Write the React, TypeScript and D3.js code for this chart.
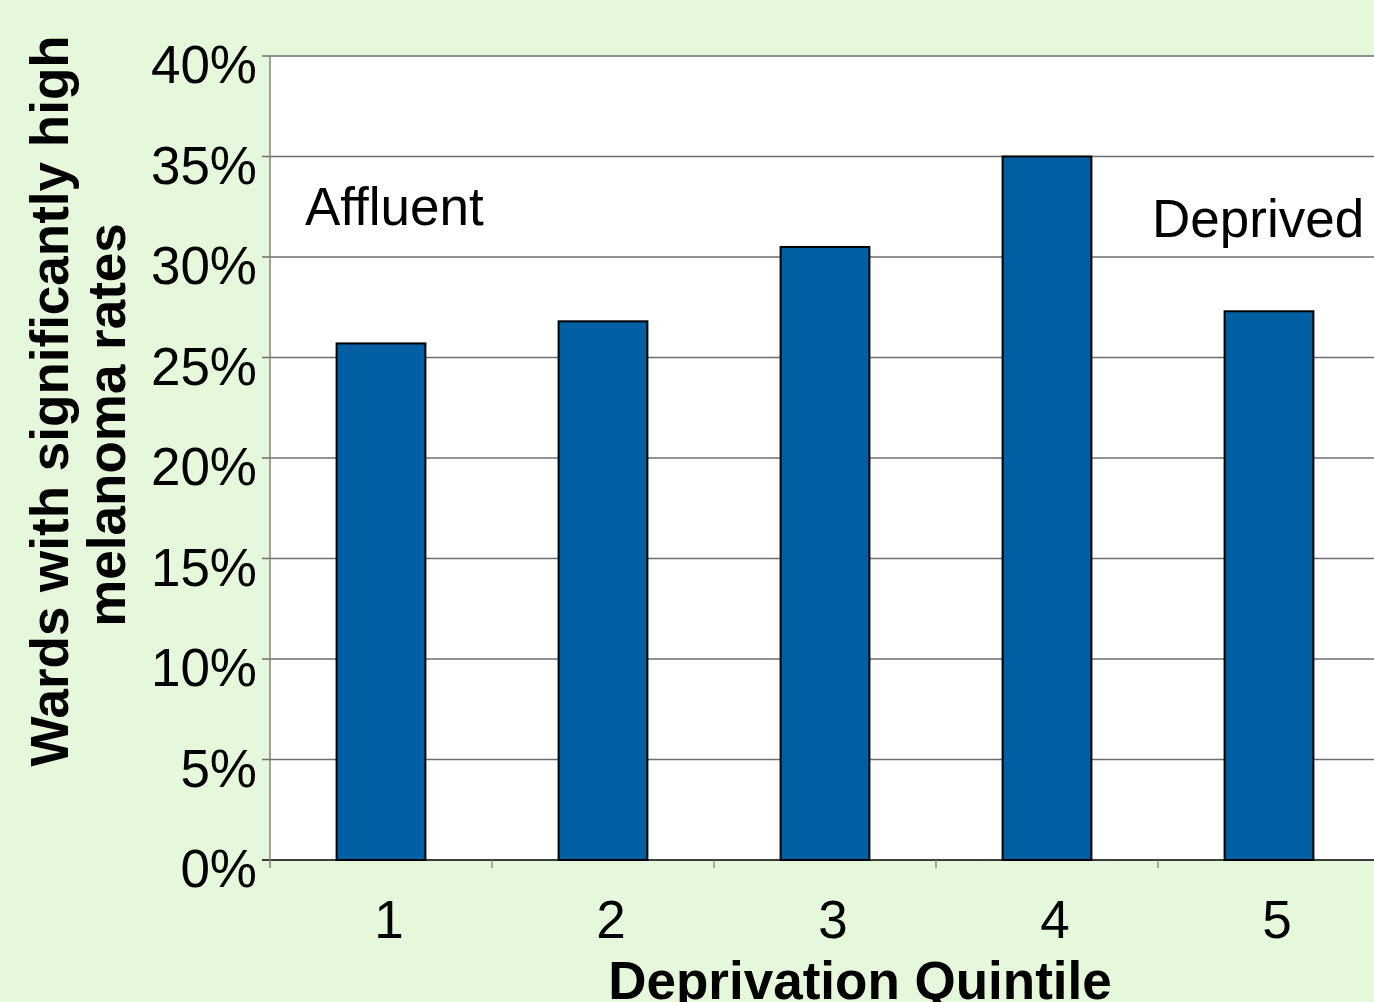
import React from "react";
import * as d3 from "d3";

const categories = ["1", "2", "3", "4", "5"];
const values = [0.257, 0.268, 0.305, 0.35, 0.273];
const yTicks = [0, 0.05, 0.1, 0.15, 0.2, 0.25, 0.3, 0.35, 0.4];

export default function App() {
  const W = 1374, H = 1002;
  const left = 270, top = 56, bottom = 860, right = 1380;
  const x = d3.scaleBand<string>().domain(categories).range([left, right]).paddingInner(0.6).paddingOuter(0.3);
  const xb = d3.scaleBand<string>().domain(categories).range([left, right]);
  const y = d3.scaleLinear().domain([0, 0.4]).range([bottom, top]);
  const fmt = d3.format(".0%");
  const font = "Liberation Sans, Arial, sans-serif";
  const fs = 53;
  return (
    <svg width={W} height={H} style={{ position: "absolute", left: 0, top: 0 }} fontFamily={font}>
      <rect x={0} y={0} width={W} height={H} fill="#E6F8DC" />
      <rect x={left} y={top} width={right - left} height={bottom - top} fill="#ffffff" />
      {yTicks.map((t) => (
        <g key={t}>
          <line x1={left - 8} x2={right} y1={y(t)} y2={y(t)} stroke={t === 0 ? "#000" : "#6e6e6e"} strokeWidth={1.3} />
          <text x={257} y={y(t) + 27} textAnchor="end" fontSize={fs} fill="#000">{fmt(t)}</text>
        </g>
      ))}
      <line x1={left} x2={left} y1={top} y2={bottom + 8} stroke="#808080" strokeWidth={1.5} />
      {categories.map((c) => (
        <line key={"t" + c} x1={xb(c)! + xb.bandwidth()} x2={xb(c)! + xb.bandwidth()} y1={bottom} y2={bottom + 8} stroke="#808080" strokeWidth={1.3} />
      ))}
      {categories.map((c, i) => (
        <rect key={c} x={x(c)} y={y(values[i])} width={x.bandwidth()} height={bottom - y(values[i])} fill="#005FA3" stroke="#000" strokeWidth={2} />
      ))}
      {categories.map((c) => (
        <text key={"l" + c} x={xb(c)! + xb.bandwidth() / 2 + 8} y={938} textAnchor="middle" fontSize={fs} fill="#000">{c}</text>
      ))}
      <text x={305} y={225} fontSize={fs} fill="#000">Affluent</text>
      <text x={1152} y={237} fontSize={fs} fill="#000">Deprived</text>
      <text x={860} y={999} textAnchor="middle" fontSize={fs} fontWeight="bold" fill="#000">Deprivation Quintile</text>
      <g transform="rotate(-90)">
        <text x={-401} y={68} textAnchor="middle" fontSize={fs} fontWeight="bold" fill="#000">Wards with significantly high</text>
        <text x={-425} y={125} textAnchor="middle" fontSize={fs} fontWeight="bold" fill="#000">melanoma rates</text>
      </g>
    </svg>
  );
}
